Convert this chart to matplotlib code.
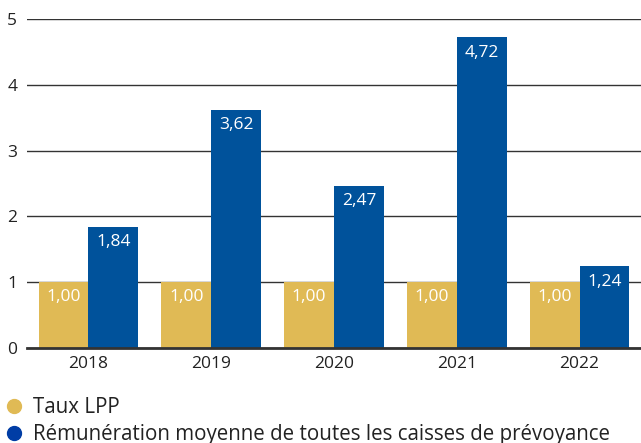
import numpy as np
import matplotlib.pyplot as plt
from matplotlib.lines import Line2D

plt.rcParams['font.family'] = ['Open Sans', 'DejaVu Sans']

years = ['2018', '2019', '2020', '2021', '2022']
taux_lpp = [1.00, 1.00, 1.00, 1.00, 1.00]
remuneration = [1.84, 3.62, 2.47, 4.72, 1.24]

gold = '#E0BA55'
blue = '#00529B'

fig = plt.figure(figsize=(6.41, 4.43), dpi=100)
ax = fig.add_axes([0.042, 0.2144, 0.958, 0.7426])

x = np.arange(len(years))
w = 0.405
b1 = ax.bar(x - w / 2, taux_lpp, w, color=gold, zorder=3)
b2 = ax.bar(x + w / 2, remuneration, w, color=blue, zorder=3)

for bars, vals in [(b1, taux_lpp), (b2, remuneration)]:
    for r, v in zip(bars, vals):
        ax.text(r.get_x() + r.get_width() / 2, v - 0.23, f"{v:.2f}".replace('.', ','),
                ha='center', va='center', color='white', fontsize=12.5, zorder=4)

ax.set_xlim(-0.5, 4.5)
ax.set_ylim(0, 5)
ax.set_yticks(range(6))
ax.set_xticks(x)
ax.set_xticklabels(years)
ax.yaxis.grid(True, color='#333333', linewidth=1)
ax.set_axisbelow(True)
for s in ['top', 'right', 'left']:
    ax.spines[s].set_visible(False)
ax.spines['bottom'].set_color('#333333')
ax.spines['bottom'].set_linewidth(2)
ax.spines['bottom'].set_zorder(5)
ax.tick_params(axis='both', length=0, labelsize=12.5, colors='#222222')
ax.tick_params(axis='y', pad=7)
ax.tick_params(axis='x', pad=6)

handles = [Line2D([], [], marker='o', ls='', color=gold, markersize=10),
           Line2D([], [], marker='o', ls='', color='#003DA5', markersize=10)]
fig.legend(handles, ['Taux LPP', 'Rémunération moyenne de toutes les caisses de prévoyance'],
           loc='upper left', bbox_to_anchor=(-0.024, 0.146), frameon=False,
           fontsize=14.8, handletextpad=0.35, labelspacing=0.3, handlelength=1.1,
           labelcolor='#222222')

fig.savefig('out.png', dpi=100)
